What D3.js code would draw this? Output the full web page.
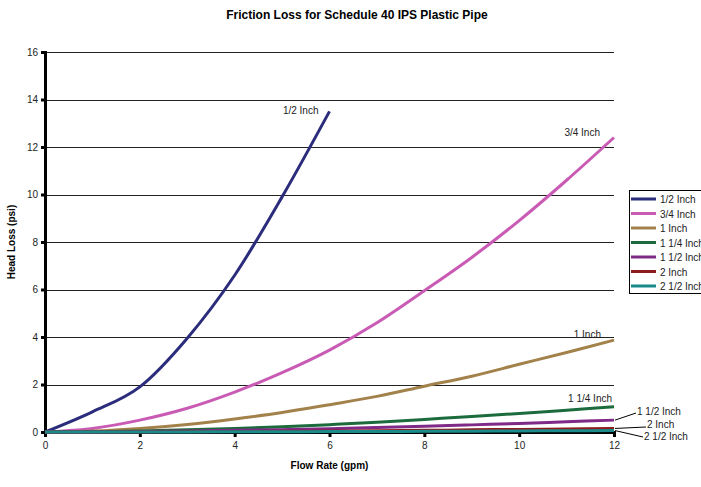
<!DOCTYPE html>
<html>
<head>
<meta charset="utf-8">
<script src="https://cdn.jsdelivr.net/npm/d3@7"></script>
<style>
  body { margin: 0; background: #fff; }
  svg { display: block; font-family: "Liberation Sans", Arial, sans-serif; }
</style>
</head>
<body>
<svg id="chart" width="701" height="487"></svg>
<script>
// flow rate in gpm
const flow = [0, 1, 2, 3, 4, 5, 6, 7, 8, 9, 10, 11, 12];

// head loss (psi) per pipe size
const halfInch = [0, 0.85, 1.9, 3.95, 6.6, 9.9, 13.5];
const threeQuarterInch = [0, 0.15, 0.5, 1.0, 1.68, 2.5, 3.45, 4.6, 5.95, 7.35, 8.9, 10.6, 12.4];
const oneInch = [0, 0.04, 0.15, 0.32, 0.55, 0.82, 1.15, 1.5, 1.93, 2.35, 2.85, 3.35, 3.87];
const oneQuarterInch = [0, 0.01, 0.04, 0.09, 0.15, 0.22, 0.31, 0.41, 0.53, 0.65, 0.78, 0.92, 1.06];
const oneHalfInch = [0, 0.005, 0.02, 0.04, 0.07, 0.1, 0.14, 0.19, 0.24, 0.3, 0.36, 0.43, 0.5];
const twoInch = [0, 0, 0.005, 0.01, 0.02, 0.03, 0.04, 0.055, 0.07, 0.09, 0.11, 0.13, 0.15];
const twoHalfInch = [0, 0, 0, 0.005, 0.01, 0.012, 0.017, 0.022, 0.028, 0.036, 0.044, 0.052, 0.06];

const seriesNames = ['1/2 Inch', '3/4 Inch', '1 Inch', '1 1/4 Inch', '1 1/2 Inch', '2 Inch', '2 1/2 Inch'];
const seriesValues = [halfInch, threeQuarterInch, oneInch, oneQuarterInch, oneHalfInch, twoInch, twoHalfInch];
const colors = ['#2b2d7c', '#c95bb5', '#a2824a', '#1c6b3c', '#7e2a86', '#8c1c1c', '#1b8a8a'];

const yTicks = [0, 2, 4, 6, 8, 10, 12, 14, 16];
const xTicks = [0, 2, 4, 6, 8, 10, 12];

const svg = d3.select('#chart');

const x = d3.scaleLinear().domain([0, 12]).range([45, 614]);
const y = d3.scaleLinear().domain([0, 16]).range([432, 52]);

// title
svg.append('text')
  .attr('x', 357)
  .attr('y', 19)
  .attr('text-anchor', 'middle')
  .style('font-size', '12px')
  .style('font-weight', 'bold')
  .text('Friction Loss for Schedule 40 IPS Plastic Pipe');

// gridlines
svg.append('g')
  .selectAll('line')
  .data(yTicks.filter((d) => d > 0))
  .enter()
  .append('line')
  .attr('x1', x(0))
  .attr('x2', x(12))
  .attr('y1', (d) => Math.round(y(d)) + 0.5)
  .attr('y2', (d) => Math.round(y(d)) + 0.5)
  .attr('stroke', '#222')
  .attr('stroke-width', 1);

// y axis
const yAxis = svg.append('g')
  .attr('transform', `translate(${x(0)},0)`)
  .call(d3.axisLeft(y).tickValues(yTicks).tickSize(4).tickPadding(3));
yAxis.select('.domain').attr('stroke', '#000').attr('stroke-width', 3);
yAxis.selectAll('.tick line').attr('stroke', '#000').attr('stroke-width', 3);
yAxis.selectAll('text').style('font-size', '10px').attr('fill', '#222');

// x axis
const xAxis = svg.append('g')
  .attr('transform', `translate(0,${y(0)})`)
  .call(d3.axisBottom(x).tickValues(xTicks).tickSize(5).tickPadding(5));
xAxis.select('.domain').attr('stroke', '#000').attr('stroke-width', 3);
xAxis.selectAll('.tick line').attr('stroke', '#000').attr('stroke-width', 3);
xAxis.selectAll('text').style('font-size', '10px').attr('fill', '#222');

// axis titles
svg.append('text')
  .attr('x', (x(0) + x(12)) / 2)
  .attr('y', 469)
  .attr('text-anchor', 'middle')
  .style('font-size', '10px')
  .style('font-weight', 'bold')
  .text('Flow Rate (gpm)');

svg.append('text')
  .attr('transform', `translate(15,${(y(0) + y(16)) / 2}) rotate(-90)`)
  .attr('text-anchor', 'middle')
  .style('font-size', '10px')
  .style('font-weight', 'bold')
  .text('Head Loss (psi)');

// series lines, smoothed like the spreadsheet original
const line = d3.line()
  .x((d, i) => x(flow[i]))
  .y((d) => y(d))
  .curve(d3.curveCardinal.tension(0));

svg.append('g')
  .selectAll('path')
  .data(seriesValues)
  .enter()
  .append('path')
  .attr('d', line)
  .attr('fill', 'none')
  .attr('stroke', (d, i) => colors[i])
  .attr('stroke-width', 3);

// end labels
const endLabels = [
  { i: 0, dx: -11, dy: 3, anchor: 'end' },
  { i: 1, dx: -14, dy: -2, anchor: 'end' },
  { i: 2, dx: -13, dy: -2, anchor: 'end' },
  { i: 3, dx: -2, dy: -5, anchor: 'end' },
];
svg.append('g')
  .selectAll('text')
  .data(endLabels)
  .enter()
  .append('text')
  .attr('x', (d) => x(flow[seriesValues[d.i].length - 1]) + d.dx)
  .attr('y', (d) => y(seriesValues[d.i][seriesValues[d.i].length - 1]) + d.dy)
  .attr('text-anchor', (d) => d.anchor)
  .style('font-size', '10px')
  .attr('fill', '#222')
  .text((d) => seriesNames[d.i]);

// leader-line labels for the small pipes
const leaders = [
  { i: 4, lx: 636, ly: 413, ty: 415 },
  { i: 5, lx: 646, ly: 427, ty: 428 },
  { i: 6, lx: 643, ly: 437, ty: 440 },
];
const leaderG = svg.append('g');
leaders.forEach((d) => {
  const vals = seriesValues[d.i];
  leaderG.append('line')
    .attr('x1', x(12) + 1)
    .attr('y1', y(vals[vals.length - 1]))
    .attr('x2', d.lx)
    .attr('y2', d.ly)
    .attr('stroke', '#000')
    .attr('stroke-width', 1);
  leaderG.append('text')
    .attr('x', d.lx + 1)
    .attr('y', d.ty)
    .style('font-size', '10px')
    .attr('fill', '#222')
    .text(seriesNames[d.i]);
});

// legend (runs off the right edge as in the original)
const legend = svg.append('g').attr('transform', 'translate(629,190)');
legend.append('rect')
  .attr('x', 0.5)
  .attr('y', 0.5)
  .attr('width', 90)
  .attr('height', 103)
  .attr('fill', '#fff')
  .attr('stroke', '#000');

const rows = legend.selectAll('g.row')
  .data(seriesNames)
  .enter()
  .append('g')
  .attr('class', 'row')
  .attr('transform', (d, i) => `translate(0,${9 + i * 14.5})`);
rows.append('line')
  .attr('x1', 2)
  .attr('x2', 27)
  .attr('stroke', (d, i) => colors[i])
  .attr('stroke-width', 3);
rows.append('text')
  .attr('x', 31)
  .attr('y', 4)
  .style('font-size', '10px')
  .attr('fill', '#222')
  .text((d) => d);
</script>
</body>
</html>
